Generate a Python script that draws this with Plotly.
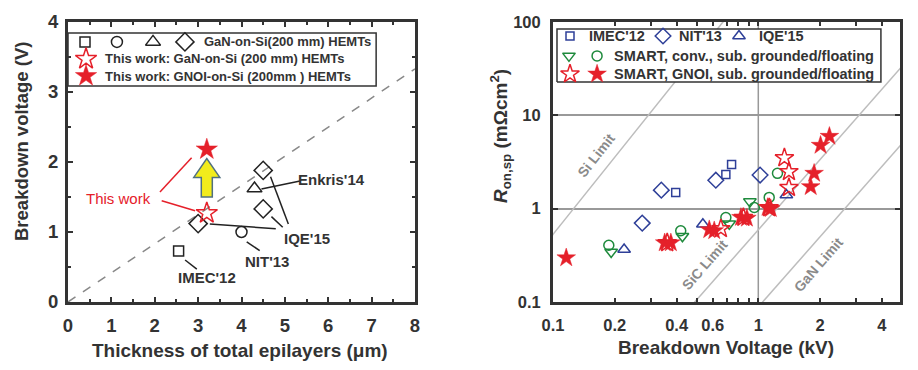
import math
import plotly.graph_objects as go

# ---------------- DATA ----------------
# Left panel: thickness of total epilayers (um) vs breakdown voltage (kV)
imec12_thick = [2.55]
imec12_bv = [0.73]
nit13_thick = [4.0]
nit13_bv = [1.0]
enkris14_thick = [4.3]
enkris14_bv = [1.62]
iqe15_thick = [3.0, 4.5, 4.5]
iqe15_bv = [1.12, 1.88, 1.33]
tw_gan_thick = [3.2]
tw_gan_bv = [1.27]
tw_gnoi_thick = [3.2]
tw_gnoi_bv = [2.18]
guide_thick = [0, 8]
guide_bv = [0, 3.33]

left_xticks = [0, 1, 2, 3, 4, 5, 6, 7, 8]
left_yticks = [0, 1, 2, 3, 4]

# Right panel: breakdown voltage (kV) vs Ron,sp (mOhm cm2)
imec_v = [0.396, 0.695, 0.741]
imec_r = [1.49, 2.33, 2.97]
nit_v = [0.272, 0.337, 0.621, 1.02]
nit_r = [0.70, 1.58, 2.02, 2.29]
iqe_v = [0.222, 0.537, 1.37]
iqe_r = [0.365, 0.68, 1.40]
conv_gnd_v = [0.192, 0.427, 0.722, 0.91]
conv_gnd_r = [0.344, 0.506, 0.69, 1.19]
conv_flt_v = [0.187, 0.419, 0.695, 0.956, 1.13, 1.24]
conv_flt_r = [0.406, 0.58, 0.805, 1.03, 1.32, 2.39]
gnoi_gnd_v = [0.36, 0.657, 0.846, 1.13, 1.34, 1.41, 1.41]
gnoi_gnd_r = [0.43, 0.61, 0.805, 1.02, 3.5, 2.49, 1.68]
gnoi_flt_v = [0.116, 0.35, 0.375, 0.577, 0.61, 0.823, 0.88, 1.11, 1.15, 1.8, 1.87, 2.01, 2.22]
gnoi_flt_r = [0.297, 0.43, 0.43, 0.595, 0.58, 0.805, 0.79, 1.03, 1.0, 1.72, 2.39, 4.77, 5.95]

si_limit_v = [0.08, 0.8]
si_limit_r = [0.287, 161]
sic_limit_v = [0.4, 6]
sic_limit_r = [0.0601, 52.4]
gan_limit_v = [0.9, 6]
gan_limit_r = [0.068, 7.81]

right_xtickvals = [0.1, 0.2, 0.4, 0.6, 1, 2, 4]
right_xticktext = ["0.1", "0.2", "0.4", "0.6", "1", "2", "4"]
right_xminor = [0.3, 0.5, 0.7, 0.8, 0.9, 3]
right_yticks = [0.1, 1, 10, 100]
right_yticktext = ["0.1", "1", "10", "100"]

# ---------------- STYLE ----------------
FONT = "Liberation Sans, Arial, sans-serif"
DARK = "#333333"
BLK = "#222222"
BLUE = "#2E3F98"
GREEN = "#1E8A3C"
RED = "#E5202A"
LIMIT = "#BDBDBD"
PAGE_OFF = 8              # default body margin of the html page
W, H = 918 - PAGE_OFF, 370 - PAGE_OFF

def px_x(p):
    return (p - PAGE_OFF) / W

def px_y(p):
    return 1 - (p - PAGE_OFF) / H

LX = [px_x(68), px_x(415)]
RX = [px_x(553), px_x(900)]
YD = [px_y(302), px_y(22)]

fig = go.Figure()

def mk(symbol, size, color, lw=1.5):
    return dict(symbol=symbol, size=size, color=color, line=dict(color=color, width=lw))

# ---------- left panel traces ----------
fig.add_trace(go.Scatter(x=guide_thick, y=guide_bv, mode="lines",
                         line=dict(color="#888888", width=1.5, dash="dash"),
                         xaxis="x", yaxis="y", showlegend=False))
left_sets = [
    (imec12_thick, imec12_bv, mk("square-open", 10, BLK)),
    (nit13_thick, nit13_bv, mk("circle-open", 11, BLK)),
    (enkris14_thick, enkris14_bv, mk("triangle-up-open", 13, BLK)),
    (iqe15_thick, iqe15_bv, mk("diamond-open", 14, BLK)),
    (tw_gan_thick, tw_gan_bv, mk("star-open", 16, RED)),
    (tw_gnoi_thick, tw_gnoi_bv, mk("star", 16, RED, lw=0.5)),
]
for xs, ys, m in left_sets:
    fig.add_trace(go.Scatter(x=xs, y=ys, mode="markers", marker=m,
                             xaxis="x", yaxis="y", showlegend=False, cliponaxis=False))

# ---------- right panel traces ----------
fig.add_trace(go.Scatter(x=[1, 1], y=[0.1, 100], mode="lines",
                         line=dict(color="#999999", width=1.5),
                         xaxis="x2", yaxis="y2", showlegend=False))
for lv, lr in [(si_limit_v, si_limit_r), (sic_limit_v, sic_limit_r), (gan_limit_v, gan_limit_r)]:
    fig.add_trace(go.Scatter(x=lv, y=lr, mode="lines",
                             line=dict(color=LIMIT, width=1.5),
                             xaxis="x2", yaxis="y2", showlegend=False))
right_sets = [
    (imec_v, imec_r, mk("square-open", 8, BLUE)),
    (nit_v, nit_r, mk("diamond-open", 12, BLUE)),
    (iqe_v, iqe_r, mk("triangle-up-open", 11, BLUE)),
    (conv_gnd_v, conv_gnd_r, mk("triangle-down-open", 11, GREEN)),
    (conv_flt_v, conv_flt_r, mk("circle-open", 10, GREEN)),
    (gnoi_gnd_v, gnoi_gnd_r, mk("star-open", 14, RED)),
    (gnoi_flt_v, gnoi_flt_r, mk("star", 14, RED, lw=0.5)),
]
for xs, ys, m in right_sets:
    fig.add_trace(go.Scatter(x=xs, y=ys, mode="markers", marker=m,
                             xaxis="x2", yaxis="y2", showlegend=False, cliponaxis=False))

# ---------- legends (overlay axes, fractional coordinates) ----------
def legend_box(xa, ya, x0, x1, y0, y1):
    fig.add_trace(go.Scatter(x=[x0, x1, x1, x0, x0], y=[y0, y0, y1, y1, y0],
                             mode="lines", fill="toself", fillcolor="white",
                             line=dict(color=DARK, width=1.5),
                             xaxis=xa, yaxis=ya, showlegend=False, hoverinfo="skip"))

def legend_mark(xa, ya, x, y, m):
    fig.add_trace(go.Scatter(x=[x], y=[y], mode="markers", marker=m,
                             xaxis=xa, yaxis=ya, showlegend=False, cliponaxis=False))

annotations = []

def txt(x, y, s, xref, yref, size=13, color=DARK, bold=True, xanchor="left", angle=0):
    annotations.append(dict(x=x, y=y, xref=xref, yref=yref, text=s, showarrow=False,
                            xanchor=xanchor, yanchor="middle", textangle=angle,
                            font=dict(family=FONT, size=size, color=color,
                                      weight="bold" if bold else "normal")))

# left legend
legend_box("x3", "y3", 0.0, 0.888, 0.771, 0.961)
r1, r2, r3 = 0.929, 0.868, 0.807
legend_mark("x3", "y3", 0.049, r1, mk("square-open", 10, BLK))
legend_mark("x3", "y3", 0.141, r1, mk("circle-open", 11, BLK))
legend_mark("x3", "y3", 0.245, r1, mk("triangle-up-open", 13, BLK))
legend_mark("x3", "y3", 0.337, r1, mk("diamond-open", 14, BLK))
legend_mark("x3", "y3", 0.052, r2, mk("star-open", 16, RED))
legend_mark("x3", "y3", 0.052, r3, mk("star", 16, RED, lw=0.5))
txt(0.385, r1, "GaN-on-Si(200 mm) HEMTs", "x3", "y3", size=13)
txt(0.100, r2, "This work: GaN-on-Si (200 mm) HEMTs", "x3", "y3", size=13)
txt(0.100, r3, "This work: GNOI-on-Si (200mm ) HEMTs", "x3", "y3", size=13)

# right legend
legend_box("x4", "y4", 0.0115, 0.945, 0.786, 0.975)
q1, q2, q3 = 0.950, 0.879, 0.814
legend_mark("x4", "y4", 0.049, q1, mk("square-open", 8, BLUE))
legend_mark("x4", "y4", 0.317, q1, mk("diamond-open", 12, BLUE))
legend_mark("x4", "y4", 0.536, q1, mk("triangle-up-open", 11, BLUE))
legend_mark("x4", "y4", 0.046, q2, mk("triangle-down-open", 11, GREEN))
legend_mark("x4", "y4", 0.127, q2, mk("circle-open", 10, GREEN))
legend_mark("x4", "y4", 0.049, q3, mk("star-open", 14, RED))
legend_mark("x4", "y4", 0.127, q3, mk("star", 14, RED, lw=0.5))
txt(0.098, q1, "IMEC'12", "x4", "y4", size=14.5)
txt(0.357, q1, "NIT'13", "x4", "y4", size=14.5)
txt(0.588, q1, "IQE'15", "x4", "y4", size=14.5)
txt(0.170, q2, "SMART, conv., sub. grounded/floating", "x4", "y4", size=14.5)
txt(0.170, q3, "SMART, GNOI, sub. grounded/floating", "x4", "y4", size=14.5)

# ---------- left panel annotations ----------
txt(1.16, 1.48, "This work", "x", "y", size=15, color=RED, bold=False, xanchor="center")
txt(3.2, 0.343, "IMEC'12", "x", "y", size=15, xanchor="center")
txt(4.58, 0.576, "NIT'13", "x", "y", size=15, xanchor="center")
txt(5.5, 0.91, "IQE'15", "x", "y", size=15, xanchor="center")
txt(6.08, 1.75, "Enkris'14", "x", "y", size=15, xanchor="center")

# right panel limit labels (log axes -> log10 positions)
txt(math.log10(0.163), math.log10(3.73), "Si Limit", "x2", "y2", size=14, color="#8A8A8A",
    xanchor="center", angle=-52)
txt(math.log10(0.545), math.log10(0.252), "SiC Limit", "x2", "y2", size=14, color="#8A8A8A",
    xanchor="center", angle=-49)
txt(math.log10(1.95), math.log10(0.252), "GaN Limit", "x2", "y2", size=14, color="#8A8A8A",
    xanchor="center", angle=-49)

# axis titles
txt(px_x(240.5), px_y(350), "Thickness of total epilayers (μm)", "paper", "paper", size=19,
    xanchor="center")
txt(px_x(21), px_y(142), "Breakdown voltage (V)", "paper", "paper", size=18.5,
    xanchor="center", angle=-90)
txt(px_x(725.5), px_y(347), "Breakdown Voltage (kV)", "paper", "paper", size=19,
    xanchor="center")
txt(px_x(500), px_y(136), "<i>R</i><sub>on,sp</sub> (mΩcm<sup>2</sup>)", "paper", "paper",
    size=19, xanchor="center", angle=-90)

# ---------- shapes: leader lines and arrow ----------
leaders_red = [((2.12, 1.57), (2.85, 2.06)), ((2.16, 1.447), (2.93, 1.304))]
leaders_blk = [((2.70, 0.60), (2.97, 0.47)), ((4.12, 0.86), (4.42, 0.733)),
               ((4.46, 1.614), (5.35, 1.73)), ((3.27, 1.114), (4.79, 1.047)),
               ((4.69, 1.219), (4.95, 1.067)), ((4.67, 1.79), (5.08, 1.114))]
shapes = []
for (a, b) in leaders_red:
    shapes.append(dict(type="line", xref="x", yref="y", x0=a[0], y0=a[1], x1=b[0], y1=b[1],
                       line=dict(color=RED, width=1.5)))
for (a, b) in leaders_blk:
    shapes.append(dict(type="line", xref="x", yref="y", x0=a[0], y0=a[1], x1=b[0], y1=b[1],
                       line=dict(color=BLK, width=1.5)))
ac, ab, ah, at, sw, hw = 3.2, 1.50, 1.78, 2.05, 0.127, 0.30
path = (f"M {ac-sw},{ab} L {ac+sw},{ab} L {ac+sw},{ah} L {ac+hw},{ah} L {ac},{at} "
        f"L {ac-hw},{ah} L {ac-sw},{ah} Z")
shapes.append(dict(type="path", xref="x", yref="y", path=path, fillcolor="#F2EC1C",
                   line=dict(color="#50707F", width=1.5)))

# ---------- axes ----------
def axis_common():
    return dict(showline=True, linewidth=3, linecolor=DARK, mirror="ticks",
                ticks="inside", tickcolor=DARK, tickwidth=2, zeroline=False,
                fixedrange=True, automargin=False)

tfL = dict(family=FONT, size=18.5, color=DARK, weight="bold")
tfR = dict(family=FONT, size=16.5, color=DARK, weight="bold")

fig.update_layout(
    width=W, height=H, margin=dict(l=0, r=0, t=0, b=0, autoexpand=False),
    paper_bgcolor="white", plot_bgcolor="white", showlegend=False,
    font=dict(family=FONT, color=DARK),
    xaxis=dict(domain=LX, range=[0, 8], tickvals=left_xticks, ticklen=5,
               showgrid=False, tickfont=tfL, ticklabelstandoff=5, anchor="y",
               minor=dict(dtick=0.5, ticks="inside", ticklen=3, tickcolor=DARK, showgrid=False),
               **axis_common()),
    yaxis=dict(domain=YD, range=[0, 4], tickvals=left_yticks, ticklen=5,
               showgrid=False, tickfont=tfL, ticklabelstandoff=3, anchor="x",
               minor=dict(dtick=0.5, ticks="inside", ticklen=3, tickcolor=DARK, showgrid=False),
               **axis_common()),
    xaxis2=dict(domain=RX, type="log", range=[-1, math.log10(4.9)], tickvals=right_xtickvals,
                ticktext=right_xticktext, ticklen=4, showgrid=False, tickfont=tfR,
                ticklabelstandoff=6, anchor="y2",
                minor=dict(tickvals=right_xminor, ticks="inside", ticklen=4, tickcolor=DARK,
                           showgrid=False),
                **axis_common()),
    yaxis2=dict(domain=YD, type="log", range=[-1, 2], tickvals=right_yticks,
                ticktext=right_yticktext, ticklen=5, showgrid=True, gridcolor="#999999",
                gridwidth=1.5, tickfont=tfR, ticklabelstandoff=6, anchor="x2",
                **axis_common()),
    xaxis3=dict(overlaying="x", range=[0, 1], visible=False, anchor="y3", fixedrange=True),
    yaxis3=dict(overlaying="y", range=[0, 1], visible=False, anchor="x3", fixedrange=True),
    xaxis4=dict(overlaying="x2", range=[0, 1], visible=False, anchor="y4", fixedrange=True),
    yaxis4=dict(overlaying="y2", range=[0, 1], visible=False, anchor="x4", fixedrange=True),
    annotations=annotations,
    shapes=shapes,
)

fig.write_html("out.html")
